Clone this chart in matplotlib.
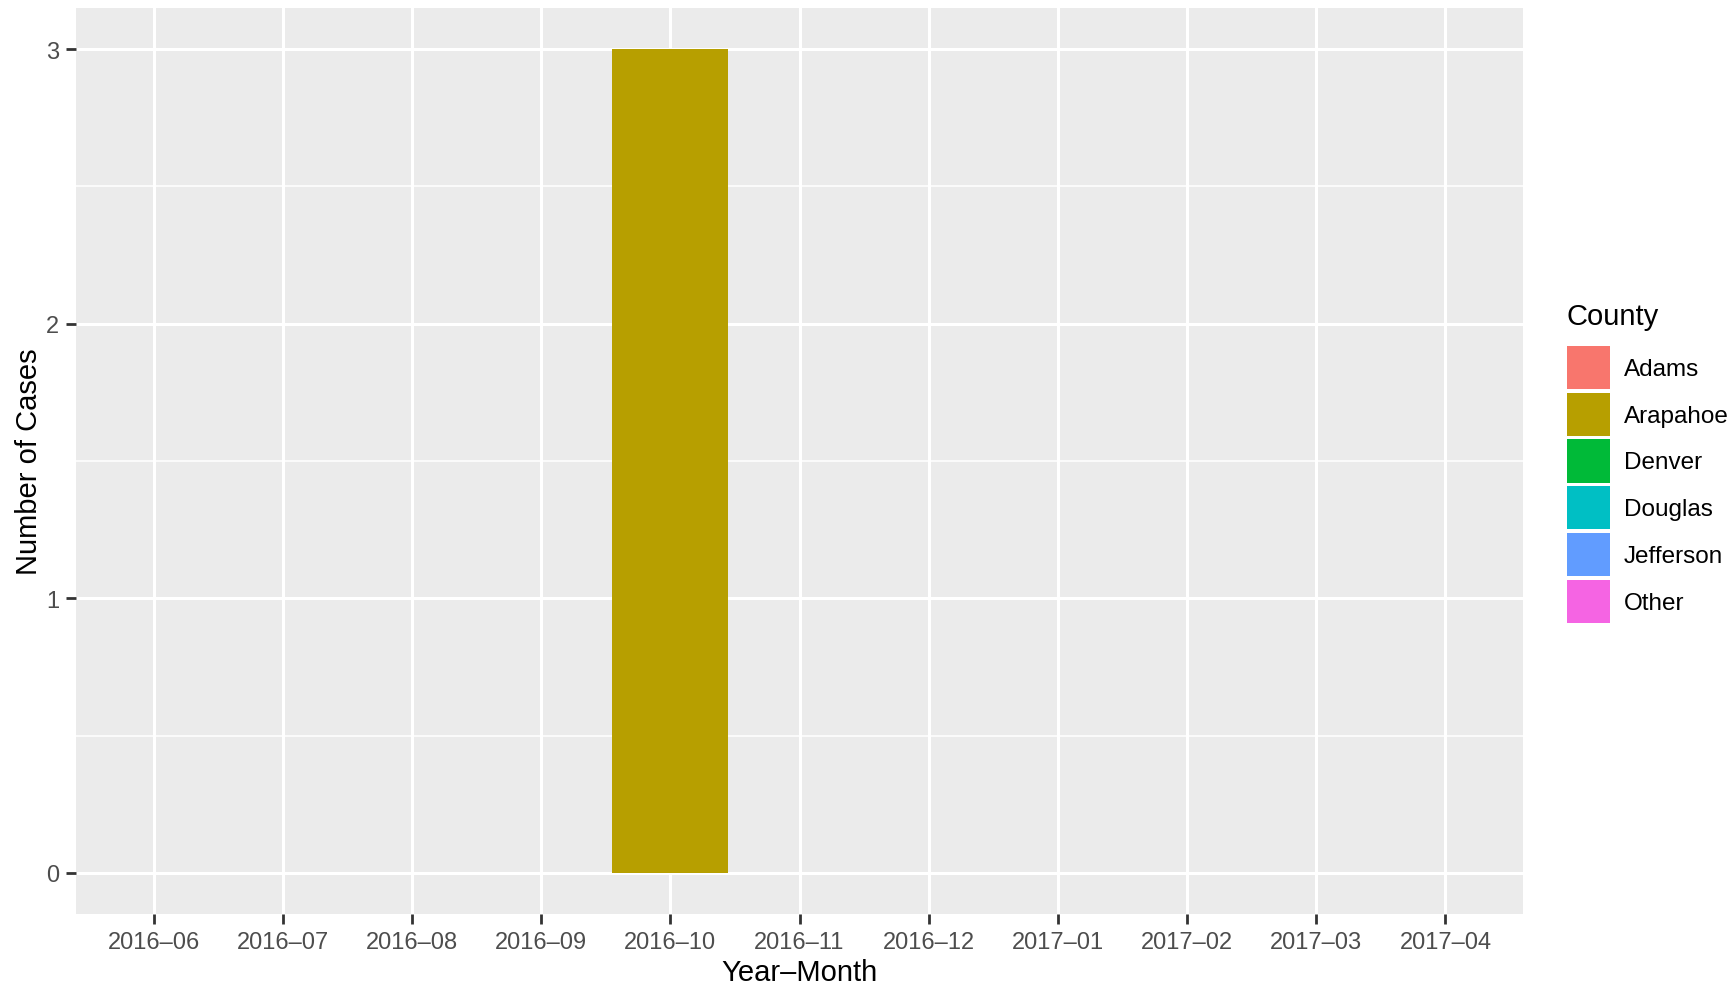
import numpy as np
import matplotlib
matplotlib.use("Agg")
import matplotlib.pyplot as plt

plt.rcParams["font.family"] = ["Liberation Sans", "DejaVu Sans"]

# data
months = ["2016–06", "2016–07", "2016–08", "2016–09", "2016–10", "2016–11",
          "2016–12", "2017–01", "2017–02", "2017–03", "2017–04"]
counties = ["Adams", "Arapahoe", "Denver", "Douglas", "Jefferson", "Other"]
colors = ["#F8766D", "#B79F00", "#00BA38", "#00BFC4", "#619CFF", "#F564E3"]
cases = {
    "Adams":     [0, 0, 0, 0, 0, 0, 0, 0, 0, 0, 0],
    "Arapahoe":  [0, 0, 0, 0, 3, 0, 0, 0, 0, 0, 0],
    "Denver":    [0, 0, 0, 0, 0, 0, 0, 0, 0, 0, 0],
    "Douglas":   [0, 0, 0, 0, 0, 0, 0, 0, 0, 0, 0],
    "Jefferson": [0, 0, 0, 0, 0, 0, 0, 0, 0, 0, 0],
    "Other":     [0, 0, 0, 0, 0, 0, 0, 0, 0, 0, 0],
}
y_ticks = [0, 1, 2, 3]

W, H = 1734, 987
fig = plt.figure(figsize=(W / 100, H / 100), dpi=100)
ax = fig.add_axes([76 / W, (H - 915) / H, (1523 - 76) / W, (915 - 9) / H])
ax.set_facecolor("#EBEBEB")
for s in ax.spines.values():
    s.set_visible(False)

x = np.arange(len(months))
bottom = np.zeros(len(months))
handles = []
for name, col in zip(counties, colors):
    vals = np.array(cases[name], dtype=float)
    b = ax.bar(x, vals, bottom=bottom, width=0.9, color=col, linewidth=0,
               label=name, zorder=3)
    handles.append(b)
    bottom += vals

ax.set_xlim(-0.6, len(months) - 0.4)
ax.set_ylim(-0.15, 3.15)
ax.set_xticks(x)
ax.set_xticklabels(months)
ax.set_yticks(y_ticks)
ax.set_yticks([0.5, 1.5, 2.5], minor=True)
ax.grid(which="major", color="white", linewidth=2.2, zorder=1)
ax.grid(which="minor", axis="y", color="white", linewidth=1.1, zorder=1)
ax.tick_params(which="major", length=7, width=2, color="#333333",
               labelsize=17, labelcolor="#4D4D4D", pad=5)
ax.tick_params(which="minor", length=0)

ax.set_xlabel("Year–Month", fontsize=21, color="black", labelpad=4)
ax.set_ylabel("Number of Cases", fontsize=21, color="black", labelpad=2)

leg = fig.legend(handles=handles, labels=counties, loc="upper left",
                 bbox_to_anchor=(1567 / W, 1 - 303 / H), frameon=False,
                 fontsize=17.5, title="County", title_fontsize=21,
                 alignment="left", handlelength=1.77, handleheight=2.35,
                 labelspacing=0.15, handletextpad=0.58, borderpad=0,
                 borderaxespad=0)
leg._legend_box.sep = 11.5

fig.savefig("out.png", dpi=100)
